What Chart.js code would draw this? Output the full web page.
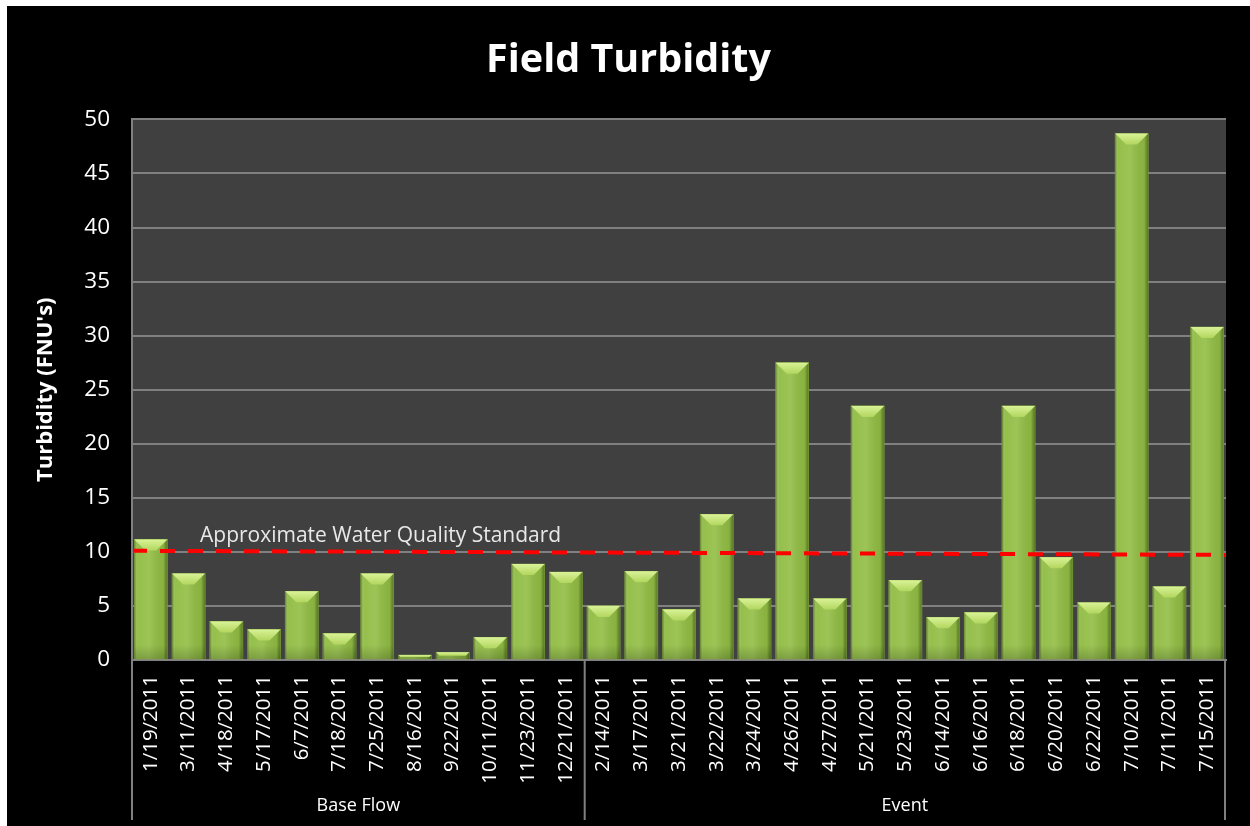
<!DOCTYPE html>
<html><head><meta charset="utf-8">
<script src="https://cdn.jsdelivr.net/npm/chart.js@4.4.1/dist/chart.umd.min.js"></script>
<style>
html,body{margin:0;padding:0;background:#fff;}
#wrap{position:absolute;left:7px;top:6px;width:1243px;height:820px;background:#000;}
canvas{display:block;}
</style></head><body>
<div id="wrap"><canvas id="c" width="1243" height="820"></canvas></div>
<script>
const dates = ['1/19/2011','3/11/2011','4/18/2011','5/17/2011','6/7/2011','7/18/2011','7/25/2011','8/16/2011','9/22/2011','10/11/2011','11/23/2011','12/21/2011',
  '2/14/2011','3/17/2011','3/21/2011','3/22/2011','3/24/2011','4/26/2011','4/27/2011','5/21/2011','5/23/2011','6/14/2011','6/16/2011','6/18/2011','6/20/2011','6/22/2011','7/10/2011','7/11/2011','7/15/2011'];
const turbidity = [11.15, 8.0, 3.57, 2.83, 6.35, 2.46, 8.0, 0.46, 0.71, 2.1, 8.87, 8.13,
  5.0, 8.2, 4.68, 13.47, 5.68, 27.5, 5.68, 23.5, 7.37, 3.95, 4.4, 23.5, 9.5, 5.32, 48.7, 6.8, 30.8];
const groupNames = ['Base Flow', 'Event'];
const groupSizes = [12, 17];
const standardLine = [10.1, 9.72];
const standardLabel = 'Approximate Water Quality Standard';
const chartTitle = 'Field Turbidity';
const yTitle = "Turbidity (FNU's)";
const yMin = 0, yMax = 50, yStep = 5;

Chart.defaults.font.family = "'Open Sans', sans-serif";

const plotBg = {
  id: 'plotBg',
  beforeDraw(chart) {
    const {ctx, chartArea: a} = chart;
    ctx.save();
    ctx.fillStyle = '#404040';
    ctx.fillRect(a.left, a.top, a.right - a.left, a.bottom - a.top);
    ctx.restore();
  }
};

const barShade = {
  id: 'barShade',
  afterDatasetDraw(chart, args) {
    if (args.meta.type !== 'bar') return;
    const ctx = chart.ctx;
    ctx.save();
    args.meta.data.forEach(el => {
      const p = el.getProps(['x', 'y', 'width', 'base'], true);
      if (![p.x, p.y, p.width, p.base].every(Number.isFinite)) return;
      const l = p.x - p.width / 2, r = p.x + p.width / 2;
      const t = Math.min(p.y, p.base), b = Math.max(p.y, p.base), h = b - t;
      const g = ctx.createLinearGradient(l, 0, r, 0);
      g.addColorStop(0, 'rgba(50,70,10,0.55)');
      g.addColorStop(0.1, 'rgba(255,255,255,0.04)');
      g.addColorStop(0.45, 'rgba(255,255,255,0.10)');
      g.addColorStop(0.88, 'rgba(0,0,0,0.06)');
      g.addColorStop(1, 'rgba(40,60,10,0.5)');
      ctx.fillStyle = g;
      ctx.fillRect(l, t, p.width, h);
      const vg = ctx.createLinearGradient(0, b - 14, 0, b);
      vg.addColorStop(0, 'rgba(0,0,0,0)');
      vg.addColorStop(1, 'rgba(0,0,0,0.18)');
      ctx.fillStyle = vg;
      ctx.fillRect(l, Math.max(t, b - 14), p.width, Math.min(14, h));
      const bv = Math.min(11, h / 2);
      ctx.beginPath();
      ctx.moveTo(l, t); ctx.lineTo(r, t); ctx.lineTo(r - bv, t + bv); ctx.lineTo(l + bv, t + bv); ctx.closePath();
      const tg = ctx.createLinearGradient(0, t, 0, t + Math.max(bv, 1));
      tg.addColorStop(0, '#d9f297');
      tg.addColorStop(1, '#b2d65e');
      ctx.fillStyle = tg;
      ctx.fill();
    });
    ctx.restore();
  }
};

const annot = {
  id: 'annot',
  afterDatasetsDraw(chart) {
    const {ctx, chartArea: a, scales: {y}} = chart;
    ctx.save();
    ctx.font = "21px 'Open Sans', sans-serif";
    ctx.fillStyle = '#e8e8e8';
    ctx.textAlign = 'left';
    ctx.textBaseline = 'middle';
    ctx.fillText(standardLabel, a.left + 68, y.getPixelForValue(standardLine[0]) - 15);
    ctx.restore();
  }
};

const groups = {
  id: 'groups',
  afterDraw(chart) {
    const {ctx, chartArea: a, scales: {x}} = chart;
    const bottom = chart.height - 6;
    ctx.save();
    ctx.strokeStyle = '#808080';
    ctx.lineWidth = 2;
    ctx.fillStyle = '#ffffff';
    ctx.font = "18px 'Open Sans', sans-serif";
    ctx.textAlign = 'center';
    ctx.textBaseline = 'middle';
    let start = 0;
    let left = a.left;
    ctx.beginPath(); ctx.moveTo(left, a.top); ctx.lineTo(left, bottom); ctx.stroke();
    groupSizes.forEach((n, gi) => {
      const end = start + n;
      const right = end < dates.length ? (x.getPixelForValue(end - 1) + x.getPixelForValue(end)) / 2 : a.right - 1;
      ctx.beginPath(); ctx.moveTo(right, a.bottom); ctx.lineTo(right, bottom); ctx.stroke();
      ctx.fillText(groupNames[gi], (left + right) / 2, chart.height - 20);
      left = right;
      start = end;
    });
    ctx.restore();
  }
};

new Chart(document.getElementById('c'), {
  data: {
    labels: dates,
    datasets: [
      {
        type: 'line',
        order: 0,
        xAxisID: 'x2',
        data: [{x: 0, y: standardLine[0]}, {x: 1, y: standardLine[1]}],
        borderColor: '#ff0000',
        borderWidth: 4,
        borderDash: [15, 13],
        pointRadius: 0,
        fill: false
      },
      {
        type: 'bar',
        order: 1,
        xAxisID: 'x',
        data: turbidity,
        backgroundColor: '#91bd44',
        borderWidth: 0,
        grouped: false,
        barThickness: 33
      }
    ]
  },
  options: {
    responsive: false,
    devicePixelRatio: 1,
    animation: false,
    layout: {padding: 0},
    plugins: {
      legend: {display: false},
      tooltip: {enabled: false},
      title: {
        display: true,
        text: chartTitle,
        color: '#ffffff',
        font: {size: 39.5, weight: 'bold'},
        padding: {top: 31, bottom: 35}
      }
    },
    scales: {
      x: {
        type: 'category',
        position: 'bottom',
        offset: true,
        grid: {display: false, drawTicks: false},
        border: {color: '#808080', width: 2},
        ticks: {color: '#ffffff', font: {size: 20.5}, minRotation: 90, maxRotation: 90, autoSkip: false, padding: 15},
        afterFit(s) { s.height = 166; }
      },
      x2: {
        type: 'linear',
        min: 0, max: 1,
        display: false
      },
      y: {
        min: yMin, max: yMax,
        ticks: {stepSize: yStep, color: '#ffffff', font: {size: 22.5}, padding: 22},
        grid: {color: '#808080', lineWidth: 2, drawTicks: false},
        border: {color: '#808080', width: 2},
        title: {display: true, text: yTitle, color: '#ffffff', font: {size: 22, weight: 'bold'}, padding: {top: 26, bottom: 0}},
        afterFit(s) { s.width = 125; }
      },
      yRight: {
        position: 'right',
        display: true,
        ticks: {display: false},
        grid: {display: false, drawTicks: false},
        border: {display: false},
        afterFit(s) { s.width = 24; }
      }
    }
  },
  plugins: [plotBg, barShade, annot, groups]
});
</script>
</body></html>
